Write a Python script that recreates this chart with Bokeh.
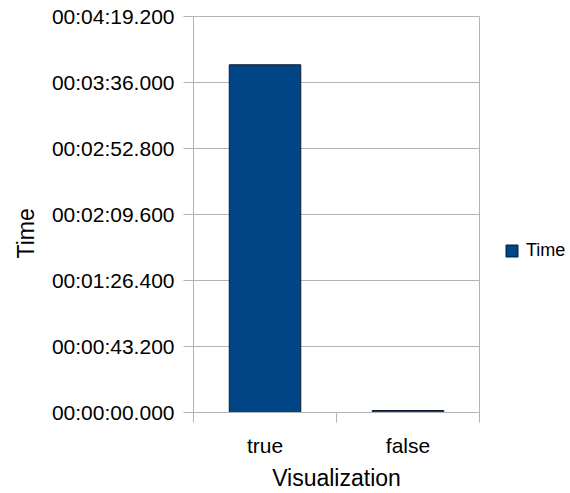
from bokeh.embed import file_html
from bokeh.layouts import row
from bokeh.models import (ColumnDataSource, FixedTicker, Legend, LegendItem,
                          Range1d, Title)
from bokeh.plotting import figure
from bokeh.resources import INLINE

# Measured durations per visualization setting, in seconds
categories = ["true", "false"]
durations_s = [227.6, 1.3]

# Time axis ticks (seconds) and their clock-style labels
time_ticks_s = [0.0, 43.2, 86.4, 129.6, 172.8, 216.0, 259.2]
time_tick_labels = [
    "00:00:00.000",
    "00:00:43.200",
    "00:01:26.400",
    "00:02:09.600",
    "00:02:52.800",
    "00:03:36.000",
    "00:04:19.200",
]
series_name = "Time"

FONT = "Liberation Sans"
GRID = "#b3b3b3"
BAR_BLUE = "#004586"
BAR_EDGE = "#0b1b33"

n = len(categories)
centers = [i + 0.5 for i in range(n)]
edges = [float(i) for i in range(n + 1)]

source = ColumnDataSource(dict(x=centers, top=durations_s, cat=categories))

# Main chart
p = figure(
    width=480,
    height=493,
    x_range=Range1d(0, n),
    y_range=Range1d(time_ticks_s[0], time_ticks_s[-1]),
    output_backend="svg",
    toolbar_location=None,
    min_border_left=193,
    min_border_right=1,
    min_border_top=16,
    min_border_bottom=81,
)
p.background_fill_color = "white"
p.border_fill_color = "white"
p.outline_line_color = GRID
p.outline_line_width = 1

bars = p.vbar(x="x", top="top", width=0.5, bottom=0, source=source,
              fill_color=BAR_BLUE, line_color=BAR_EDGE, line_width=1)

# Category axis: labels at bar centres, separator ticks between categories
xa = p.xaxis[0]
xa.ticker = FixedTicker(ticks=centers, minor_ticks=edges)
xa.major_label_overrides = {c: name for c, name in zip(centers, categories)}
xa.major_tick_line_color = None
xa.minor_tick_line_color = GRID
xa.minor_tick_in = 0
xa.minor_tick_out = 10
xa.axis_line_color = GRID
xa.major_label_standoff = 11
xa.major_label_text_font = FONT
xa.major_label_text_font_size = "21px"
xa.major_label_text_color = "black"
xa.axis_label = "Visualization"
xa.axis_label_standoff = 5
xa.axis_label_text_font = FONT
xa.axis_label_text_font_size = "23px"
xa.axis_label_text_font_style = "normal"
xa.axis_label_text_color = "black"

# Time axis
ya = p.yaxis[0]
ya.ticker = FixedTicker(ticks=time_ticks_s)
ya.major_label_overrides = {t: s for t, s in zip(time_ticks_s, time_tick_labels)}
ya.major_tick_line_color = GRID
ya.major_tick_in = 0
ya.major_tick_out = 10
ya.minor_tick_line_color = None
ya.axis_line_color = GRID
ya.major_label_standoff = 9
ya.major_label_text_font = FONT
ya.major_label_text_font_size = "21px"
ya.major_label_text_color = "black"

p.xgrid.grid_line_color = None
p.ygrid.grid_line_color = GRID
p.ygrid.ticker = ya.ticker

# Vertical title of the time axis
p.add_layout(Title(text="Time", align="left", offset=154, standoff=19,
                   text_font=FONT, text_font_size="23px",
                   text_font_style="normal", text_color="black"), "left")

# Legend column at the right of the chart
q = figure(
    width=90,
    height=493,
    x_range=Range1d(0, 1),
    y_range=Range1d(0, 1),
    output_backend="svg",
    toolbar_location=None,
    x_axis_location=None,
    y_axis_location=None,
    min_border=0,
)
q.outline_line_color = None
q.grid.grid_line_color = None
q.background_fill_color = "white"
q.border_fill_color = "white"
key = q.vbar(x="x", top="top", width=0.5, bottom=0, source=source,
             fill_color=BAR_BLUE, line_color=BAR_EDGE, line_width=1,
             visible=False)

legend = Legend(
    items=[LegendItem(label=series_name, renderers=[key])],
    location=(24, 151),
    background_fill_alpha=0,
    border_line_color=None,
    padding=0,
    margin=0,
    spacing=0,
    glyph_width=15,
    glyph_height=15,
    label_height=15,
    label_standoff=7,
    label_text_font=FONT,
    label_text_font_size="18px",
    label_text_color="black",
)
q.add_layout(legend, "center")

layout = row(p, q, spacing=0)
open("out.html", "w").write(file_html(layout, INLINE))
